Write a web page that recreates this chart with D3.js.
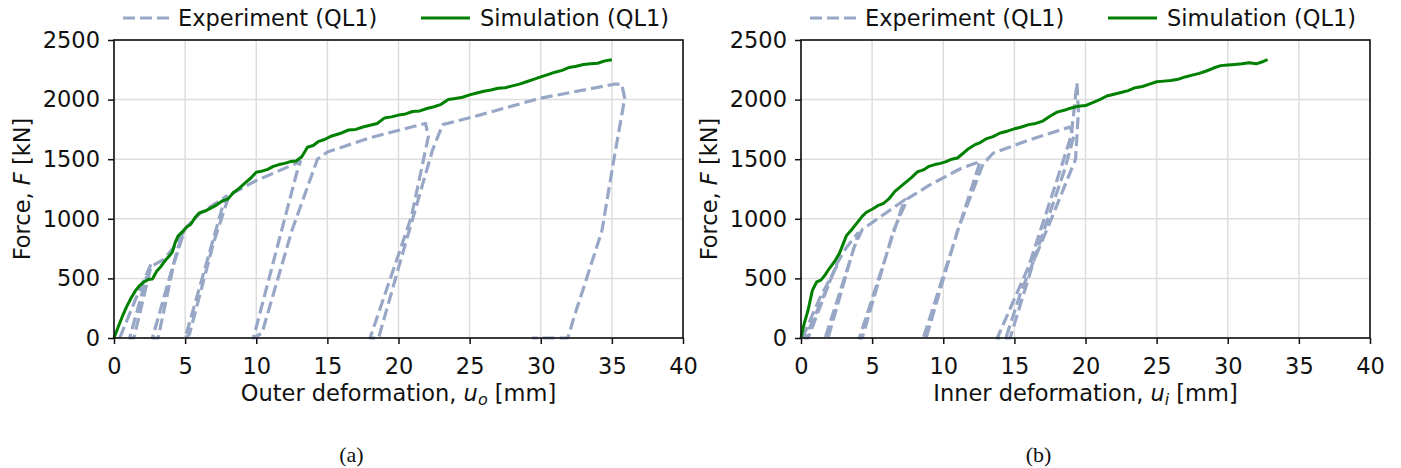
<!DOCTYPE html>
<html>
<head>
  <meta charset="utf-8">
  <title>Force - deformation</title>
  <style>
    body { margin: 0; background: #fff; }
  </style>
</head>
<body>
  <script src="https://d3js.org/d3.v7.min.js" charset="utf-8"></script>
  <script type="text/javascript">
    // x ticks / y ticks
    var xTicks = [0, 5, 10, 15, 20, 25, 30, 35, 40];
    var yTicks = [0, 500, 1000, 1500, 2000, 2500];

    // (a) outer deformation - experiment
    var expOuterU = [0.4, 1.5, 2.6, 2.4, 1.1, 1.4, 2.6, 3.5, 4.2, 4.9, 4.7, 2.7, 3.1, 4.2, 5.0, 6.0, 7.9, 7.7, 5.0, 5.3, 7.0, 8.1, 10.0, 13.1, 12.9, 9.8, 10.4, 12.5, 14.3, 15.0, 18.0, 21.9, 22.1, 20.9, 18.0, 18.6, 20.1, 22.4, 23.1, 25.7, 29.9, 35.2, 35.7, 35.9, 35.1, 34.3, 33.2, 32.5, 31.9, 29.4];
    var expOuterF = [0, 320, 620, 560, 0, 0, 600, 660, 760, 890, 840, 0, 0, 620, 920, 1040, 1190, 1130, 0, 30, 800, 1200, 1320, 1480, 1410, 0, 40, 900, 1500, 1560, 1680, 1800, 1690, 1015, 0, 0, 630, 1580, 1790, 1870, 2010, 2130, 2130, 2010, 1470, 900, 490, 235, 0, 0];

    // (a) outer deformation - simulation
    var simOuterU = [0, 0.3, 0.6, 0.9, 1.2, 1.5, 1.8, 2.1, 2.4, 2.7, 3.0, 3.3, 3.6, 3.9, 4.1, 4.3, 4.5, 4.8, 5.1, 5.4, 5.7, 6.0, 6.4, 6.8, 7.2, 7.6, 8.0, 8.4, 8.8, 9.2, 9.6, 10.0, 10.4, 10.8, 11.2, 11.6, 12.0, 12.4, 12.8, 13.2, 13.6, 14.0, 14.4, 14.8, 15.2, 15.6, 16.0, 16.5, 17.0, 17.5, 18.0, 18.5, 19.0, 19.5, 20.0, 20.5, 21.0, 21.5, 22.0, 22.5, 23.0, 23.5, 24.0, 24.5, 25.0, 25.5, 26.0, 26.5, 27.0, 27.5, 28.0, 28.5, 29.0, 29.5, 30.0, 30.5, 31.0, 31.5, 32.0, 32.5, 33.0, 33.5, 34.0, 34.5, 35.0];
    var simOuterF = [0, 95, 185, 265, 335, 395, 440, 470, 490, 495, 560, 600, 650, 690, 720, 800, 855, 890, 930, 955, 1010, 1050, 1065, 1090, 1115, 1150, 1165, 1220, 1255, 1300, 1340, 1390, 1400, 1415, 1440, 1455, 1465, 1480, 1485, 1520, 1600, 1615, 1650, 1665, 1690, 1705, 1720, 1745, 1750, 1770, 1785, 1800, 1845, 1855, 1870, 1880, 1900, 1905, 1925, 1940, 1960, 2000, 2010, 2020, 2040, 2055, 2070, 2080, 2095, 2100, 2115, 2130, 2150, 2170, 2190, 2210, 2230, 2245, 2270, 2280, 2295, 2300, 2305, 2325, 2335];

    // (b) inner deformation - experiment
    var expInnerU = [0.1, 1.3, 2.5, 2.3, 0.3, 0.5, 2.5, 3.2, 4.0, 3.9, 1.7, 1.9, 3.7, 4.3, 5.5, 7.3, 7.1, 4.1, 4.3, 6.5, 7.5, 9.0, 11.2, 12.6, 12.4, 8.6, 8.8, 11.0, 12.8, 13.5, 16.0, 18.9, 19.2, 18.5, 16.5, 14.7, 13.8, 16.0, 18.2, 19.0, 19.4, 19.5, 19.3, 17.6, 15.5, 14.4];
    var expInnerF = [0, 330, 600, 550, 0, 0, 620, 760, 880, 820, 0, 0, 750, 910, 1010, 1160, 1100, 0, 0, 900, 1170, 1280, 1420, 1480, 1410, 0, 0, 900, 1460, 1550, 1660, 1770, 1700, 1400, 700, 0, 0, 600, 1400, 1700, 2140, 1900, 1500, 1000, 400, 0];

    // (b) inner deformation - simulation
    var simInnerU = [0, 0.2, 0.5, 0.8, 1.1, 1.4, 1.7, 2.0, 2.4, 2.7, 3.0, 3.2, 3.5, 3.9, 4.3, 4.6, 5.0, 5.4, 5.8, 6.2, 6.6, 7.0, 7.4, 7.8, 8.2, 8.6, 9.0, 9.4, 9.8, 10.2, 10.6, 11.0, 11.4, 11.8, 12.2, 12.6, 13.0, 13.5, 14.0, 14.5, 15.0, 15.5, 16.0, 16.5, 17.0, 17.5, 18.0, 18.5, 19.0, 19.5, 20.0, 20.5, 21.0, 21.5, 22.0, 22.5, 23.0, 23.5, 24.0, 24.5, 25.0, 25.5, 26.0, 26.5, 27.0, 27.5, 28.0, 28.5, 29.0, 29.5, 30.0, 30.5, 31.0, 31.5, 32.0, 32.5, 32.8];
    var simInnerF = [0, 110, 235, 400, 470, 485, 530, 585, 650, 710, 800, 860, 900, 960, 1020, 1055, 1080, 1110, 1130, 1170, 1230, 1270, 1310, 1350, 1395, 1410, 1440, 1455, 1465, 1480, 1500, 1510, 1550, 1590, 1620, 1640, 1670, 1690, 1720, 1735, 1755, 1770, 1790, 1800, 1820, 1860, 1895, 1910, 1930, 1945, 1950, 1975, 2000, 2030, 2045, 2060, 2075, 2100, 2110, 2130, 2150, 2155, 2160, 2170, 2190, 2205, 2220, 2240, 2265, 2285, 2290, 2295, 2300, 2310, 2300, 2320, 2335];

    var expColor = '#98a7c6';
    var simColor = '#008000';
    var fontFam = '"DejaVu Sans", sans-serif';
    var fs = '22.5px';

    var svgW = 1401;
    var svgH = 468;
    var svg = d3.select('body').append('svg').attr('width', svgW).attr('height', svgH);

    function zip(u, f) {
      return u.map(function(d, i) { return [d, f[i]]; });
    }

    function drawPanel(left, right, exp, sim, xLabelMain, xSub, caption) {
      var top = 40, bottom = 338;
      var x = d3.scaleLinear().domain([0, 40]).range([left, right]);
      var y = d3.scaleLinear().domain([0, 2500]).range([bottom, top]);
      var g = svg.append('g').attr('font-family', fontFam);

      // grid
      g.selectAll('.gx').data(xTicks).enter().append('line')
        .attr('x1', function(d) { return x(d); }).attr('x2', function(d) { return x(d); })
        .attr('y1', top).attr('y2', bottom)
        .attr('stroke', '#dddddd').attr('stroke-width', 1.5);
      g.selectAll('.gy').data(yTicks).enter().append('line')
        .attr('x1', left).attr('x2', right)
        .attr('y1', function(d) { return y(d); }).attr('y2', function(d) { return y(d); })
        .attr('stroke', '#dddddd').attr('stroke-width', 1.5);

      var line = d3.line().x(function(d) { return x(d[0]); }).y(function(d) { return y(d[1]); });

      g.append('path').datum(exp).attr('d', line)
        .attr('fill', 'none').attr('stroke', expColor).attr('stroke-width', 3.2)
        .attr('stroke-dasharray', '12,5').attr('stroke-linejoin', 'round');
      g.append('path').datum(sim).attr('d', line)
        .attr('fill', 'none').attr('stroke', simColor).attr('stroke-width', 3)
        .attr('stroke-linejoin', 'round');

      // frame
      g.append('rect').attr('x', left).attr('y', top)
        .attr('width', right - left).attr('height', bottom - top)
        .attr('fill', 'none').attr('stroke', '#111').attr('stroke-width', 1.6);

      var xAxis = g.append('g').attr('transform', 'translate(0,' + bottom + ')')
        .call(d3.axisBottom(x).tickValues(xTicks).tickFormat(d3.format('d')).tickSize(6).tickPadding(14));
      var yAxis = g.append('g').attr('transform', 'translate(' + left + ',0)')
        .call(d3.axisLeft(y).tickValues(yTicks).tickFormat(d3.format('d')).tickSize(6).tickPadding(8));
      [xAxis, yAxis].forEach(function(a) {
        a.select('.domain').remove();
        a.selectAll('line').attr('stroke', '#111').attr('stroke-width', 1.5);
        a.attr('font-size', fs).attr('font-family', fontFam);
        a.selectAll('text').attr('fill', '#111');
      });

      // x label
      var xl = g.append('text').attr('x', (left + right) / 2).attr('y', 401)
        .attr('text-anchor', 'middle').attr('font-size', fs).attr('fill', '#111');
      xl.append('tspan').text(xLabelMain);
      xl.append('tspan').attr('font-style', 'italic').text('u');
      xl.append('tspan').attr('font-style', 'italic').attr('font-size', '16px').attr('dy', 4).text(xSub);
      xl.append('tspan').attr('dy', -4).text(' [mm]');

      // y label
      var yl = g.append('text').attr('transform', 'translate(' + (left - 84) + ',' + ((top + bottom) / 2) + ') rotate(-90)')
        .attr('text-anchor', 'middle').attr('font-size', fs).attr('fill', '#111');
      yl.append('tspan').text('Force, ');
      yl.append('tspan').attr('font-style', 'italic').text('F');
      yl.append('tspan').text(' [kN]');

      // legend
      g.append('line').attr('x1', left + 9).attr('x2', left + 57).attr('y1', 18).attr('y2', 18)
        .attr('stroke', expColor).attr('stroke-width', 3.2).attr('stroke-dasharray', '12,5');
      g.append('text').attr('x', left + 64).attr('y', 26).attr('font-size', fs).attr('fill', '#111')
        .text('Experiment (QL1)');
      g.append('line').attr('x1', left + 307).attr('x2', left + 356).attr('y1', 18).attr('y2', 18)
        .attr('stroke', simColor).attr('stroke-width', 3);
      g.append('text').attr('x', left + 366).attr('y', 26).attr('font-size', fs).attr('fill', '#111')
        .text('Simulation (QL1)');

      // caption
      g.append('text').attr('x', (left + right) / 2 - 47).attr('y', 462)
        .attr('text-anchor', 'middle').attr('font-size', '22px')
        .attr('font-family', '"Liberation Serif", "Times New Roman", serif').attr('fill', '#111')
        .text(caption);
    }

    drawPanel(114, 683, zip(expOuterU, expOuterF), zip(simOuterU, simOuterF), 'Outer deformation, ', 'o', '(a)');
    drawPanel(801, 1370, zip(expInnerU, expInnerF), zip(simInnerU, simInnerF), 'Inner deformation, ', 'i', '(b)');
  </script>
</body>
</html>
